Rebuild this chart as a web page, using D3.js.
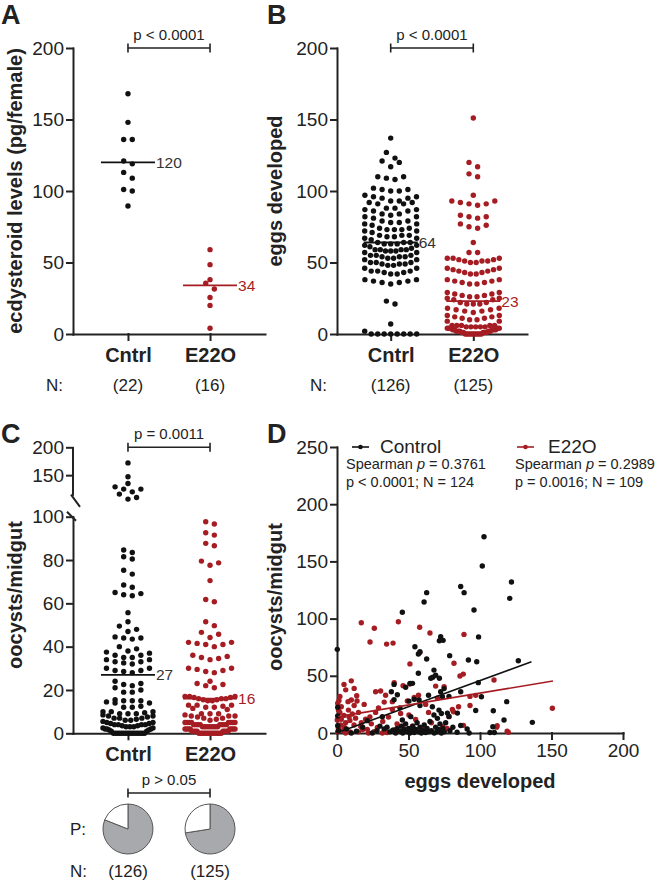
<!DOCTYPE html>
<html><head><meta charset="utf-8">
<script src="https://cdn.jsdelivr.net/npm/d3@7"></script>
<style>body{margin:0;background:#fff}svg text{font-family:"Liberation Sans",Arial,sans-serif}</style>
</head><body>
<svg id="c" width="662" height="882"></svg>
<script>
// ---------- DATA ----------
const categories = ["Cntrl", "E22O"];
// Panel A: ecdysteroid levels (pg/female)
const ecdyCntrl = [168,148,136,136,121,119,113,109,101,100,89.5];
const ecdyE22O  = [59,48.5,38,35.5,31.5,25.5,20,4];
const ecdyMed   = [120,34];
const ecdyN     = ["(22)","(16)"];
// Panel B: eggs developed
const eggsCntrl = [0,0,0,0,0,0,0,0,2,7,21,23,35,36,36,37,37,38,38,42,42,43,43,44,44,44,46,46,48,48,49,49,49,50,50,50,52,52,53,53,54,54,54,55,55,55,57,57,58,58,58,59,59,59,59,60,61,62,62,63,63,63,64,64,64,66,67,67,68,68,69,69,69,71,72,72,73,73,73,74,74,76,77,77,78,78,79,79,81,82,82,83,84,84,86,86,87,87,88,88,91,91,92,92,93,93,95,95,96,96,97,100,100,101,101,102,108,109,110,110,117,120,121,123,127,137];
const eggsE22O  = [0,0,0,0,0,0,0,0,0,0,1,1,1,1,1,2,2,2,2,2,3,3,3,3,3,4,4,4,4,4,5,5,5,5,5,6,6,6,6,6,9,9,10,10,11,11,12,12,13,13,15,16,16,17,17,18,18,21,21,21,22,22,24,24,25,25,26,26,27,27,28,28,29,29,35,35,36,36,37,37,38,38,42,42,43,43,44,44,45,45,46,46,50,50,51,51,51,52,52,53,53,53,57,57,64,74,75,76,77,81,82,82,83,90,91,91,92,93,93,97,110,112,117,120,151];
const eggsMed   = [64,23];
const eggsN     = ["(126)","(125)"];
// Panel C: oocysts/midgut
const oocCntrl  = [172,147,135,129,125,125,120,116,110,107,84.6,83.5,81.5,80.5,75.3,73.5,68.5,67.4,65,64.5,64,63.5,55.7,51.5,49.5,48,47,44,44,44.5,43.5,40,39,38,37.5,37,32,32.5,33,33,34,34,35,35,36,36,28,28.5,29,29,30,30,20,21,22,22.5,23,24,19,19,14,14,14.5,15,15,15,15.5,12,12,12.5,8,8,8.5,9,9,9,9.5,10,10,10,5,5,5.5,6,6,6.5,7,7,7,7.5,1,1,1.5,1.5,2,2,2,2.5,2.5,3,3,3,3.5,3.5,4,4,4,4,4.5,4.5,0,0,0,0,0,0,0,0,0,0,0,0,0,0,0,0];
const oocE22O   = [97.7,96.6,92.6,91.5,87.7,86.6,79.5,78.7,77.6,70.5,61.8,60.7,51.5,49.7,46.6,45.7,44.2,42,42,41.5,41,41,40,36,35.5,35,34.5,34,30,30,29.5,29,28.5,28,24,23,22.5,22,21,17,17,17,16.5,16.5,16,16,16,15.5,15.5,15,15,13,13,13,12.5,12,12,11.5,11,9,9,9,8.5,8,8,8,7.5,7,7,6.5,6,5,5,5,5,5,5,5,5,4,4,4,4,4,4,4,4,3,3,3,3,3,3,3,3,2,2,2,2,2,2,2,2,1,1,1,1,1,1,1,1,0,0,0,0,0,0,0,0,0,0,0,0,0,0];
const oocMed    = [27,16];
const prevalence = [0.81, 0.725];
const oocN      = ["(126)","(125)"];
const pA = "p < 0.0001", pB = "p < 0.0001", pC = "p = 0.0011", pPie = "p > 0.05";
// Panel D: scatter [eggs developed, oocysts/midgut]
const scatterControl = [[102.8,171.6],[101.6,146],[86.5,128],[88.9,122.7],[62.7,122.7],[60.9,114.5],[45.7,105.5],[95.8,107.5],[120.8,117.7],[122,132],[126.8,63.2],[99,84],[101,31.7],[118.7,27.4],[109.3,19.5],[116.8,11.4],[136.6,9.3],[109,5.5],[107,0.5],[110,0.5],[72.5,84.2],[71.6,80.7],[74.2,81],[54.5,75.4],[56.9,69],[58,71],[78.8,67.6],[91.9,63.8],[97.7,62.3],[62.7,64.7],[67.8,55],[56.9,52.2],[67,48.7],[71.6,47.8],[65.6,47.8],[69,50.5],[39.9,42.5],[51.1,43.4],[52.8,43.4],[48,40],[38,36.1],[72.5,36.1],[74.9,38.8],[86.5,36.1],[98.8,44],[73.7,31.7],[57.4,28.9],[54,29.5],[50.3,27.9],[39.9,29],[42.2,33.5],[78.3,32],[66.7,23],[71.3,20],[73,17],[67.8,15.7],[70.2,12.8],[77.2,17.4],[78.3,14.5],[84.2,17.4],[97,19.7],[21.2,10.8],[31.7,14.3],[45.7,11.4],[51.6,14.3],[0.2,73.1],[0.5,22.6],[0.5,14.9],[0.5,6.4],[1,2],[6.6,3.6],[13.6,1.5],[24.7,0],[33,3.6],[35,5],[84,0.7],[86.5,6.5],[91,3.6],[92.4,0],[37,1],[39,2.5],[41,0],[42,4],[44,1.5],[45,6],[46,0],[47,3],[48,8],[49,1],[50,4],[51,0],[52,2],[53,6],[54,0.5],[55,3],[56,9],[57,1],[58,5],[59,0],[60,2],[61,7],[62,0.5],[63,4],[64,1],[65,10],[66,2],[68,0],[69,5],[70,1],[71,3],[72,8],[73,0],[74,4],[75,1],[76,9],[79,2],[81,5],[30,6],[28,2],[18,5],[10,0],[58,24],[64,33],[44,22]];
const scatterE22O = [[17,96.4],[26.1,91.5],[42.9,97.3],[23.1,79.5],[34.7,77.7],[39.2,78.6],[57.8,92.4],[65,87.4],[88.8,86.2],[58,70.3],[51,60.4],[81.8,61],[86,49.8],[88.3,51.5],[109.8,46.3],[30.5,36.7],[46.2,41.4],[51,42.8],[4.9,42.5],[10,45.6],[6.1,37.7],[13.8,32.6],[1.4,28.3],[7.7,27.4],[10,28.9],[3,23],[4.9,15.4],[8.4,14.3],[10.7,16.6],[0.2,11.4],[2.6,7],[11.9,7],[16.6,5.6],[21.2,3.2],[25.9,1.2],[28.2,4.9],[31.7,0],[38.7,27.4],[49.2,28],[54,31],[70.2,30.5],[74.9,40.4],[81.4,18.6],[80.7,20.6],[88.4,6.7],[93,32],[97,32.9],[112,6.4],[119,1.5],[38.7,20.6],[44.5,17.1],[50.3,15.7],[55,11.9],[52.8,5.9],[78.3,14.3],[74,5.6],[77,4],[44.5,1],[48,1.7],[39.9,2.6],[150.6,21.6],[111.6,5.1],[119.8,0.7],[0.5,26],[1,20],[2,18],[3,12],[1,4],[0.5,1],[4,2],[6,9],[8,20],[9,11],[12,24],[13,13],[15,1],[15,18],[17,9],[18,3],[20,12],[22,0],[24,8],[27,18],[29,22],[32,10],[33,27],[35,0.5],[36,14],[42,8],[6,0],[2,32],[12,39],[19,25],[57,33],[62,25],[66,9],[60,3],[85,23],[93,24],[69,41],[46,6],[27,36],[64,18],[34,33],[5,5],[9,1],[14,28],[23,14],[40,44]];
const fitControl = [[3,1.5],[136,62.3]];
const fitE22O    = [[1,14.3],[151,45.4]];
const legendNames = ["Control","E22O"];
const statsControl = ["0.3761","p < 0.0001; N = 124"];
const statsE22O    = ["0.2989","p = 0.0016; N = 109"];

// ---------- STYLE ----------
const BLACK="#111", RED="#a51d23", AX="#222", TXT="#222", GREY="#a7a9ac";
const colors=[BLACK,RED];
const svg=d3.select("#c");

function styleAxis(g, fs, bold){
  g.attr("font-family",null).attr("font-size",null);
  g.selectAll("path,line").attr("stroke",AX).attr("stroke-width",2).attr("stroke-linecap","square");
  g.selectAll("text").attr("font-size",fs).attr("fill",TXT).attr("font-weight",bold?"bold":"normal");
}
function yTitle(x,y,t){
  svg.append("text").attr("transform",`translate(${x},${y}) rotate(-90)`).attr("text-anchor","middle")
    .attr("font-size",20).attr("font-weight","bold").attr("fill",TXT).text(t);
}
function letter(x,y,t){ svg.append("text").attr("x",x).attr("y",y).attr("font-size",27).attr("font-weight","bold").attr("fill",TXT).text(t); }
function bracket(x1,x2,y,label){
  svg.append("path").attr("d",`M${x1},${y-4.5}V${y+4.5}M${x1},${y}H${x2}M${x2},${y-4.5}V${y+4.5}`)
    .attr("stroke",AX).attr("stroke-width",1.6).attr("fill","none");
  svg.append("text").attr("x",(x1+x2)/2).attr("y",y-8).attr("text-anchor","middle").attr("font-size",15).attr("fill",TXT).text(label);
}
// beeswarm in rows (GraphPad style: smallest in centre => smile shapes)
function swarm(vals, y, win, sp, maxHalf){
  const pts=vals.map(v=>({v,py:y(v)})).sort((a,b)=>a.v-b.v);
  const rows=[]; let cur=null;
  for(const p of pts){ if(!cur || cur.y0-p.py>win){cur={y0:p.py,items:[]};rows.push(cur);} cur.items.push(p); }
  for(const r of rows){
    const n=r.items.length, s=n>1?Math.min(sp,2*maxHalf/(n-1)):0;
    const slots=d3.range(n).map(i=>(i-(n-1)/2)*s).sort((a,b)=>Math.abs(a)-Math.abs(b)||b-a);
    r.items.forEach((p,k)=>p.dx=slots[k]);
  }
  return pts;
}
function dots(groups, x, y, r, win, sp, maxHalf){
  groups.forEach((vals,i)=>{
    const pts=swarm(vals,y,win,sp,maxHalf);
    svg.append("g").selectAll("circle").data(pts).join("circle")
      .attr("cx",d=>x(categories[i])+d.dx).attr("cy",d=>d.py).attr("r",r).attr("fill",colors[i]);
  });
}
function medians(meds, x, y){
  meds.forEach((m,i)=>{
    const cx=x(categories[i]);
    svg.append("line").attr("x1",cx-27).attr("x2",cx+27).attr("y1",y(m)).attr("y2",y(m)).attr("stroke",colors[i]).attr("stroke-width",1.8);
    svg.append("text").attr("x",cx+28).attr("y",y(m)).attr("dy","0.36em").attr("font-size",15.5).attr("fill",i?RED:"#333").text(m);
  });
}
function catAxis(x, yPos){
  const g=svg.append("g").attr("transform",`translate(0,${yPos})`).call(d3.axisBottom(x).tickSize(6).tickPadding(8).tickSizeOuter(0));
  styleAxis(g,20,true);
}
function nRow(xN, x, y, labels){
  svg.append("text").attr("x",xN).attr("y",y).attr("font-size",17).attr("fill",TXT).text("N:");
  labels.forEach((l,i)=>svg.append("text").attr("x",x(categories[i])).attr("y",y).attr("text-anchor","middle").attr("font-size",17).attr("fill",TXT).text(l));
}

// ---------- PANEL A ----------
const yA=d3.scaleLinear().domain([0,200]).range([334,48]);
const xA=d3.scalePoint().domain(categories).range([73,265]).padding(0.67);
styleAxis(svg.append("g").attr("transform","translate(73,0)").call(d3.axisLeft(yA).tickValues([0,50,100,150,200]).tickSize(6).tickPadding(3).tickSizeOuter(0)),19,false);
catAxis(xA,334);
dots([ecdyCntrl,ecdyE22O],xA,yA,2.7,6,8.6,26);
medians(ecdyMed,xA,yA);
bracket(xA(categories[0]),xA(categories[1]),yA(200),pA);
yTitle(22,191,"ecdysteroid levels (pg/female)");
letter(1,24,"A");
nRow(46,xA,391,ecdyN);

// ---------- PANEL B ----------
const yB=d3.scaleLinear().domain([0,200]).range([334,48]);
const xB=d3.scalePoint().domain(categories).range([337,527]).padding(0.65);
styleAxis(svg.append("g").attr("transform","translate(337,0)").call(d3.axisLeft(yB).tickValues([0,50,100,150,200]).tickSize(6).tickPadding(3).tickSizeOuter(0)),19,false);
catAxis(xB,334);
dots([eggsCntrl,eggsE22O],xB,yB,2.7,6,8.6,26);
medians(eggsMed,xB,yB);
bracket(xB(categories[0]),xB(categories[1]),yB(200),pB);
yTitle(282,191,"eggs developed");
letter(267,24,"B");
nRow(310,xB,391,eggsN);

// ---------- PANEL C (broken axis) ----------
const yCu=d3.scaleLinear().domain([100,200]).range([503,447.3]);
const yCl=d3.scaleLinear().domain([0,100]).range([733.3,516.7]);
const yC=v=>v>102?yCu(v):yCl(v);
const xC=d3.scalePoint().domain(categories).range([73,265]).padding(0.67);
const gCu=svg.append("g").attr("transform","translate(73,0)").call(d3.axisLeft(yCu).tickValues([150,200]).tickSize(6).tickPadding(3).tickSizeOuter(0));
gCu.select(".domain").remove();
styleAxis(gCu,19,false);
const gCl=svg.append("g").attr("transform","translate(73,0)").call(d3.axisLeft(yCl).tickValues([0,20,40,60,80,100]).tickSize(6).tickPadding(3).tickSizeOuter(0));
styleAxis(gCl,19,false);
svg.append("path").attr("d",`M73,${yCu(200)}V${yCu(113)}M71,${yCu(115)}L80,${yCu(93)}M67,${yCl(100)-5}L76,${yCl(100)+4}`)
  .attr("stroke",AX).attr("stroke-width",2).attr("fill","none");
catAxis(xC,733.3);
dots([oocCntrl,oocE22O],xC,yC,2.7,6,8.6,25);
medians(oocMed,xC,yCl);
bracket(xC(categories[0]),xC(categories[1]),yCu(200),pC);
yTitle(22,595,"oocysts/midgut");
letter(1,443,"C");
// pies
bracket(xC(categories[0]),xC(categories[1]),793,pPie);
const arc=d3.arc().innerRadius(0).outerRadius(25);
prevalence.forEach((pv,i)=>{
  const arcs=d3.pie().sort(null)([pv,1-pv]);
  svg.append("g").attr("transform",`translate(${xC(categories[i])},829)`).selectAll("path").data(arcs).join("path")
    .attr("d",arc).attr("fill",(d,k)=>k?"#fff":GREY).attr("stroke","#555").attr("stroke-width",1);
});
svg.append("text").attr("x",70).attr("y",835).attr("font-size",17).attr("fill",TXT).text("P:");
nRow(70,xC,877,oocN);

// ---------- PANEL D ----------
const xD=d3.scaleLinear().domain([0,200]).range([337,623]);
const yD=d3.scaleLinear().domain([0,250]).range([733,447]);
styleAxis(svg.append("g").attr("transform","translate(337,0)").call(d3.axisLeft(yD).tickValues([0,50,100,150,200,250]).tickSize(6).tickPadding(3).tickSizeOuter(0)),19,false);
styleAxis(svg.append("g").attr("transform","translate(0,733)").call(d3.axisBottom(xD).tickValues([0,50,100,150,200]).tickSize(6).tickPadding(5).tickSizeOuter(0)),19,false);
svg.append("g").selectAll("circle").data(scatterE22O).join("circle").attr("cx",d=>xD(d[0])).attr("cy",d=>yD(d[1])).attr("r",2.7).attr("fill",RED);
svg.append("g").selectAll("circle").data(scatterControl).join("circle").attr("cx",d=>xD(d[0])).attr("cy",d=>yD(d[1])).attr("r",2.7).attr("fill",BLACK);
const ln=d3.line().x(d=>xD(d[0])).y(d=>yD(d[1]));
svg.append("path").attr("d",ln(fitControl)).attr("stroke",BLACK).attr("stroke-width",1.6).attr("fill","none");
svg.append("path").attr("d",ln(fitE22O)).attr("stroke",RED).attr("stroke-width",1.6).attr("fill","none");
yTitle(282,597,"oocysts/midgut");
svg.append("text").attr("x",480).attr("y",788).attr("text-anchor","middle").attr("font-size",20).attr("font-weight","bold").attr("fill",TXT).text("eggs developed");
letter(267,443,"D");
// legend
[[352,380,346,statsControl],[517,548,515,statsE22O]].forEach(([lx,tx,sx,st],i)=>{
  svg.append("line").attr("x1",lx).attr("x2",lx+17).attr("y1",447).attr("y2",447).attr("stroke",colors[i]).attr("stroke-width",1.6);
  svg.append("circle").attr("cx",lx+8.5).attr("cy",447).attr("r",2.3).attr("fill",colors[i]);
  svg.append("text").attr("x",tx).attr("y",453).attr("font-size",19).attr("fill",TXT).text(legendNames[i]);
  const t=svg.append("text").attr("x",sx).attr("y",469).attr("font-size",14.5).attr("fill",TXT);
  t.append("tspan").text("Spearman ");
  t.append("tspan").attr("font-style","italic").text("p");
  t.append("tspan").text(" = "+st[0]);
  svg.append("text").attr("x",sx).attr("y",487).attr("font-size",14.5).attr("fill",TXT).text(st[1]);
});
</script>
</body></html>
